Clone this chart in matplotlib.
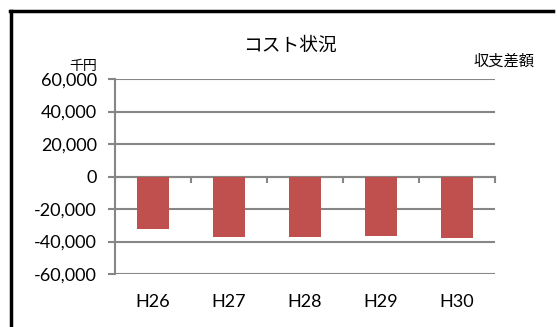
import matplotlib
matplotlib.use('Agg')
import matplotlib.pyplot as plt
from matplotlib.lines import Line2D
import numpy as np

categories = ['H26', 'H27', 'H28', 'H29', 'H30']
balance = [-32300, -37000, -37000, -36400, -37700]
yticks = [-60000, -40000, -20000, 0, 20000, 40000, 60000]

plt.rcParams['font.family'] = ['Lato', 'Noto Sans CJK JP', 'DejaVu Sans']
jp = ['Noto Sans CJK JP', 'DejaVu Sans']
grid_c = '#868686'

fig = plt.figure(figsize=(5.57, 3.27), dpi=100)
ax = fig.add_axes([115 / 557, 1 - 274 / 327, 380 / 557, 195 / 327])

x = np.arange(len(categories))
ax.bar(x, balance, width=0.41, color='#C0504D', zorder=3)

ax.set_xlim(-0.5, len(categories) - 0.5)
ax.set_ylim(-60000, 60000)
ax.set_yticks(yticks)
ax.set_yticklabels([f'{v:,}' for v in yticks], fontsize=13)
for v in yticks:
    ax.axhline(v, color=grid_c, lw=1.5, zorder=1)

# x軸は0の位置、区切りに目盛り
ax.spines['bottom'].set_position(('data', 0))
ax.spines['bottom'].set_color(grid_c)
ax.spines['bottom'].set_linewidth(1.5)
ax.spines['left'].set_color(grid_c)
ax.spines['left'].set_linewidth(1.5)
ax.spines['top'].set_visible(False)
ax.spines['right'].set_visible(False)
ax.set_xticks(np.arange(len(categories) + 1) - 0.5)
ax.set_xticklabels([])
ax.tick_params(axis='x', direction='out', length=4.3, width=1.5, color=grid_c)
ax.tick_params(axis='y', direction='out', length=5, width=1.5, color=grid_c, pad=8)

for i, c in enumerate(categories):
    ax.annotate(c, xy=(i, 0), xycoords=('data', 'axes fraction'),
                xytext=(0, -20), textcoords='offset points',
                ha='center', va='center', fontsize=13)

fig.text(290 / 557, 1 - 45 / 327, 'コスト状況', ha='center', va='center',
         fontsize=13.5, family=jp)
fig.text(83 / 557, 1 - 66 / 327, '千円', ha='center', va='center',
         fontsize=10, family=jp)
fig.text(504 / 557, 1 - 61 / 327, '収支差額', ha='center', va='center',
         fontsize=11, family=jp)

# 枠線（上と左のみ）
fig.add_artist(Line2D([10 / 557, 553 / 557], [1 - 10.5 / 327, 1 - 10.5 / 327],
                      color='black', lw=2.5, transform=fig.transFigure))
fig.add_artist(Line2D([10.5 / 557, 10.5 / 557], [0, 1 - 10.5 / 327],
                      color='black', lw=2.5, transform=fig.transFigure))

fig.savefig('out.png', dpi=100, facecolor='white')
